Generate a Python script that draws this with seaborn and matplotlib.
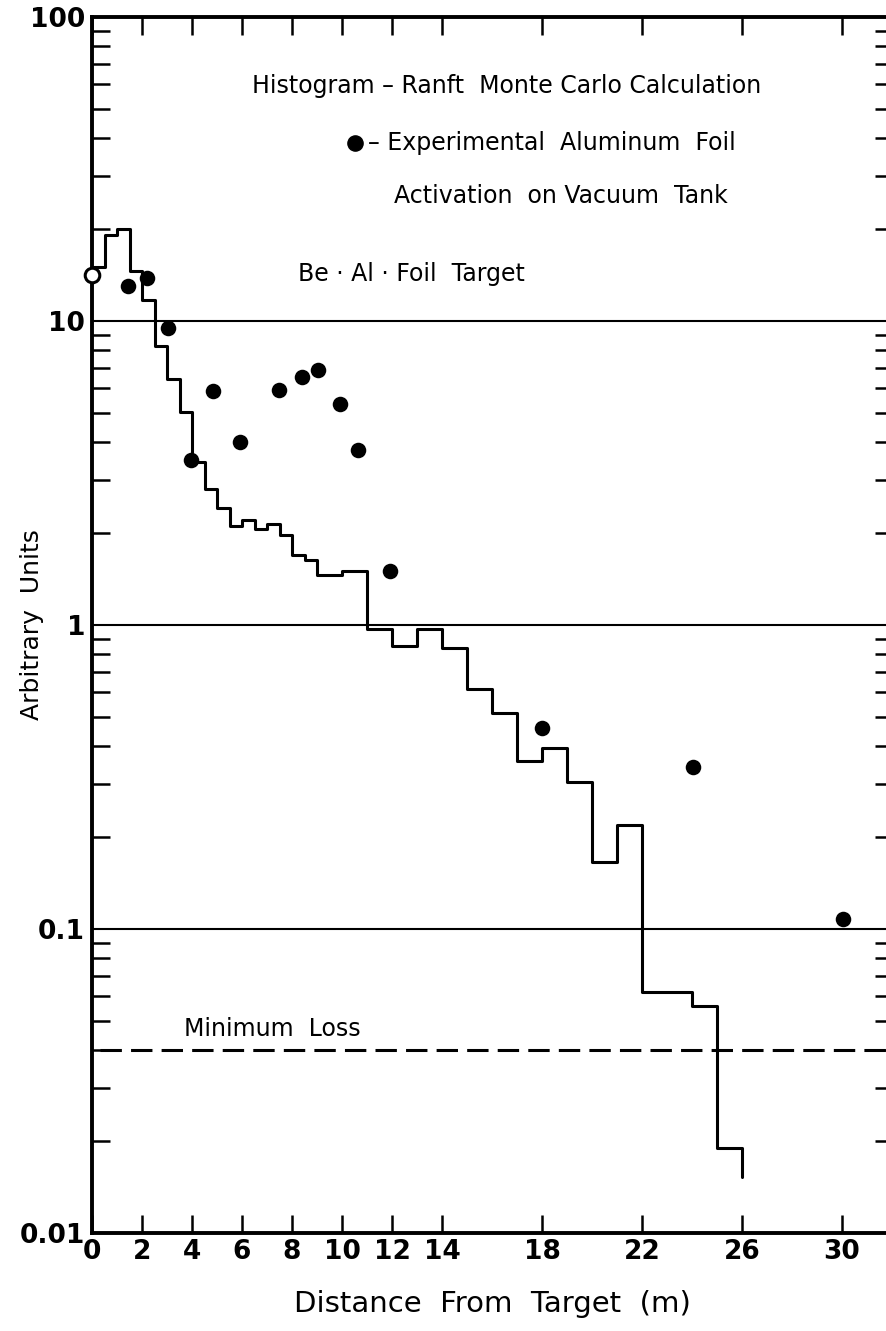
import numpy as np
import pandas as pd
import seaborn as sns
import matplotlib.pyplot as plt
from matplotlib.ticker import NullFormatter, LogLocator

# Ranft Monte Carlo histogram: bin edges (m) and heights (arbitrary units)
bin_edges = [0, 0.5, 1, 1.5, 2, 2.5, 3, 3.5, 4, 4.5, 5, 5.5, 6, 6.5, 7, 7.5, 8, 8.5,
             9, 10, 11, 12, 13, 14, 15, 16, 17, 18, 19, 20, 21, 22, 24, 25, 26]
bin_values = [15.0, 19.2, 20.0, 14.6, 11.7, 8.26, 6.44, 5.01, 3.43, 2.80, 2.43, 2.11,
              2.22, 2.07, 2.15, 1.97, 1.70, 1.63, 1.46, 1.50, 0.97, 0.853, 0.97, 0.838,
              0.618, 0.515, 0.357, 0.393, 0.305, 0.166, 0.220, 0.062, 0.0557, 0.0191]
hist_end_value = 0.0153

# experimental aluminum foil activation points
exp_x = [1.45, 2.2, 3.05, 3.95, 4.85, 5.92, 7.48, 8.39, 9.03, 9.92, 10.65, 11.9, 18.0, 24.05, 30.05]
exp_y = [13.0, 13.8, 9.5, 3.48, 5.87, 4.0, 5.95, 6.55, 6.92, 5.35, 3.76, 1.50, 0.459, 0.342, 0.108]
first_x, first_y = 0.0, 14.2  # open point sitting on the axis

x_ticks = [0, 2, 4, 6, 8, 10, 12, 14, 18, 22, 26, 30]
y_ticks = [0.01, 0.1, 1, 10, 100]
y_ticklabels = ["0.01", "0.1", "1", "10", "100"]
ref_lines = [10, 1, 0.1]
min_loss = 0.04

sns.set_style("white")
plt.rcParams['font.family'] = ['DejaVu Sans']
for k in ["text.color", "axes.labelcolor", "xtick.color", "ytick.color"]:
    plt.rcParams[k] = "black"

fig = plt.figure(figsize=(8.86, 13.31), dpi=100)
ax = fig.add_axes([92/886, 1 - 1233/1331, (893 - 92)/886, (1233 - 17)/1331])


def px_y(py):
    # pixel row -> value on the log axis (for placing annotations)
    return 10 ** (2 - (py - 17) / 304.3)


def px_x(px):
    return (px - 92) / 25


# step histogram (bins drawn as steps-post)
hist_df = pd.DataFrame({"x": bin_edges, "y": bin_values + [hist_end_value]})
sns.lineplot(data=hist_df, x="x", y="y", estimator=None, sort=False,
             drawstyle="steps-post", color="black", lw=2.2, ax=ax)

# reference lines
for v in ref_lines:
    ax.axhline(v, color="black", lw=1.5, zorder=1)
ax.axhline(min_loss, xmin=8/801, color="black", lw=2.2, ls=(0, (7, 3)), zorder=1)

pts = pd.DataFrame({"x": exp_x, "y": exp_y})
sns.scatterplot(data=pts, x="x", y="y", color="black", s=125, edgecolor="black",
                linewidth=0, ax=ax, zorder=5, clip_on=False)
ax.scatter([first_x], [first_y], s=110, facecolor="white", edgecolor="black",
           linewidth=2.2, zorder=6, clip_on=False)

ax.set_yscale("log")
ax.set_ylim(0.01, 100)
ax.set_xlim(0, 32.04)

ax.set_xticks(x_ticks)
ax.set_xticklabels([str(t) for t in x_ticks], fontsize=19, fontweight="bold")
ax.set_yticks(y_ticks)
ax.set_yticklabels(y_ticklabels, fontsize=19, fontweight="bold")
ax.yaxis.set_minor_locator(LogLocator(base=10, subs=np.arange(2, 10)))
ax.yaxis.set_minor_formatter(NullFormatter())

ax.tick_params(axis="x", which="major", direction="in", length=13, width=1.8,
               top=True, bottom=True, pad=4)
ax.tick_params(axis="y", which="major", direction="in", length=0, pad=5,
               left=True, right=True)
ax.tick_params(axis="y", which="minor", direction="in", length=13, width=1.8,
               left=True, right=True)

for side in ["left", "bottom", "top", "right"]:
    ax.spines[side].set_linewidth(2.8)
    ax.spines[side].set_color("black")

ax.set_xlabel("Distance  From  Target  (m)", fontsize=21, labelpad=18)
ax.set_ylabel("")
fig.text(32/886, 1 - 625/1331, "Arbitrary  Units", fontsize=18, rotation=90,
         ha="center", va="center")

# annotations
ax.text(px_x(252), px_y(86), "Histogram \u2013 Ranft  Monte Carlo Calculation",
        fontsize=17, ha="left", va="center")
ax.scatter([px_x(355)], [px_y(143)], s=120, color="black", clip_on=False)
ax.text(px_x(368), px_y(143), "\u2013 Experimental  Aluminum  Foil",
        fontsize=17, ha="left", va="center")
ax.text(px_x(394), px_y(196), "Activation  on Vacuum  Tank",
        fontsize=17, ha="left", va="center")
ax.text(px_x(298), px_y(274), "Be \u00b7 Al \u00b7 Foil  Target",
        fontsize=17, ha="left", va="center")
ax.text(px_x(184), px_y(1030), "Minimum  Loss",
        fontsize=17, ha="left", va="center")

fig.savefig("out.png", dpi=100)
